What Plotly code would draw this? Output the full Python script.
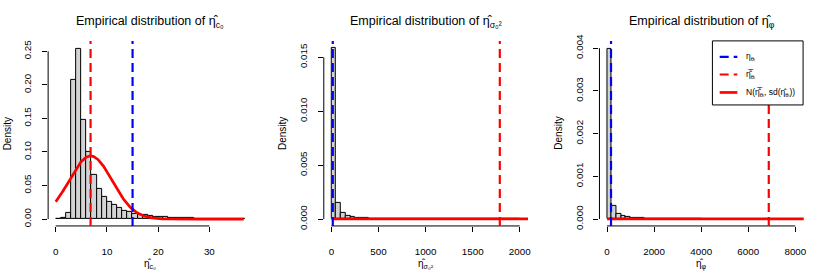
import numpy as np
import plotly.graph_objects as go

# ---------------- data ----------------
# Panel 1: eta_c0  (bin width 1, starting at 0)
bw1 = 1
dens1 = [0.0, 0.0024, 0.0086, 0.207, 0.254, 0.148, 0.100, 0.0652, 0.0443, 0.0330,
         0.0255, 0.0205, 0.0160, 0.0125, 0.0100, 0.0085, 0.0070, 0.0057, 0.0048, 0.0038,
         0.0033, 0.0028, 0.0024, 0.0020, 0.0017, 0.0014, 0.0012, 0.0010, 0.0008, 0.0007,
         0.0006, 0.0005, 0.0004, 0.0003, 0.0003, 0.0002, 0.0002]
true1 = 15.0
mean1 = 6.8
sd1 = 4.24
curve_end1 = 36.7
xticks1 = [0, 10, 20, 30]
yticks1 = [0.00, 0.05, 0.10, 0.15, 0.20, 0.25]

# Panel 2: eta_sigma0^2  (bin width 50)
bw2 = 50
dens2 = [0.01586, 0.00147, 0.00054, 0.00031, 0.00021, 0.00015, 0.00011, 0.00008,
         0.00006, 0.00005, 0.00004, 0.00003, 0.00003, 0.00002, 0.00002, 0.00002,
         0.00001, 0.00001, 0.00001, 0.00001, 0.00001, 0.00001, 0.00001, 0.00001,
         0.0, 0.0, 0.0, 0.0, 0.0, 0.0, 0.0, 0.0, 0.0, 0.0, 0.0, 0.0, 0.0, 0.0, 0.0, 0.0]
true2 = 14.0
mean2 = 1788.0
sd2 = 25000.0
curve_end2 = 2090.0
xticks2 = [0, 500, 1000, 1500, 2000]
yticks2 = [0.000, 0.005, 0.010, 0.015]

# Panel 3: eta_phi  (bin width 200)
bw3 = 200
dens3 = [0.003987, 0.000299, 0.000128, 0.000075, 0.000052, 0.000037, 0.000027, 0.000020,
         0.000015, 0.000012, 0.000010, 0.000008, 0.000006, 0.000005, 0.000004, 0.000003,
         0.000003, 0.000002, 0.000002, 0.000002]
true3 = 169.0
mean3 = 6871.0
sd3 = 90000.0
curve_end3 = 8400.0
xticks3 = [0, 2000, 4000, 6000, 8000]
yticks3 = [0.000, 0.001, 0.002, 0.003, 0.004]

titles = ["Empirical distribution of η\u0302<sub>c₀</sub>",
          "Empirical distribution of η\u0302<sub>σ₀²</sub>",
          "Empirical distribution of η\u0302<sub>φ</sub>"]
xtitles = ["η\u0302<sub>c₀</sub>", "η\u0302<sub>σ₀²</sub>", "η\u0302<sub>φ</sub>"]
legend_labels = ["η<sub>θᵢ</sub>",
                 "η\u0305\u0302<sub>θᵢ</sub>",
                 "N(η\u0305\u0302<sub>θᵢ</sub>, sd(η\u0302<sub>θᵢ</sub>))"]

panels = [
    dict(bw=bw1, dens=dens1, true=true1, mean=mean1, sd=sd1, cend=curve_end1,
         xt=xticks1, yt=yticks1, xr=[-1.49, 38.4], yr=[-0.0102, 0.2655], yfmt="%.2f"),
    dict(bw=bw2, dens=dens2, true=true2, mean=mean2, sd=sd2, cend=curve_end2,
         xt=xticks2, yt=yticks2, xr=[-81.5, 2088], yr=[-0.000636, 0.01652], yfmt="%.3f"),
    dict(bw=bw3, dens=dens3, true=true3, mean=mean3, sd=sd3, cend=curve_end3,
         xt=xticks3, yt=yticks3, xr=[-322, 8356], yr=[-0.00016, 0.00417], yfmt="%.3f"),
]

# ---------------- figure ----------------
W, H = 830, 277
FONT = "Liberation Sans, Arial, Helvetica, sans-serif"
fig = go.Figure()
shapes = []
annotations = []
ydom = [1 - 228 / H, 1 - 35.3 / H]
layout_axes = {}

for i, p in enumerate(panels):
    k = "" if i == 0 else str(i + 1)
    xa, ya = "x" + k, "y" + k
    left = 48.3 + 276.67 * i
    right = left + 205
    dens = p["dens"]
    edges = [j * p["bw"] for j in range(len(dens))]
    fig.add_trace(go.Bar(
        x=[e + p["bw"] / 2 for e in edges], y=dens, width=[p["bw"]] * len(dens),
        marker=dict(color="#D3D3D3", line=dict(color="black", width=1)),
        xaxis=xa, yaxis=ya, showlegend=False, hoverinfo="skip"))
    xs = np.linspace(0, p["cend"], 500)
    ys = np.exp(-0.5 * ((xs - p["mean"]) / p["sd"]) ** 2) / (p["sd"] * np.sqrt(2 * np.pi))
    fig.add_trace(go.Scatter(x=xs, y=ys, mode="lines",
                             line=dict(color="#FF0000", width=2.7),
                             xaxis=xa, yaxis=ya, showlegend=False, hoverinfo="skip"))

    layout_axes["xaxis" + k] = dict(
        domain=[left / W, right / W], range=p["xr"], anchor=ya,
        tickvals=p["xt"], ticktext=[str(v) for v in p["xt"]],
        ticks="outside", ticklen=5, tickwidth=1, tickcolor="black",
        showline=False, showgrid=False, zeroline=False,
        tickfont=dict(family=FONT, size=9.8, color="black"), ticklabelstandoff=11)
    layout_axes["yaxis" + k] = dict(
        domain=ydom, range=p["yr"], anchor=xa,
        tickvals=p["yt"], ticktext=[p["yfmt"] % v for v in p["yt"]],
        ticks="outside", ticklen=5, tickwidth=1, tickcolor="black", tickangle=-90,
        showline=False, showgrid=False, zeroline=False,
        tickfont=dict(family=FONT, size=9.8, color="black"), ticklabelstandoff=7)

    # R-style axis lines spanning first..last tick
    shapes.append(dict(type="line", xref=xa, yref=ya + " domain",
                       x0=p["xt"][0], x1=p["xt"][-1], y0=0, y1=0,
                       line=dict(color="black", width=1), layer="above"))
    shapes.append(dict(type="line", xref=xa + " domain", yref=ya,
                       x0=0, x1=0, y0=p["yt"][0], y1=p["yt"][-1],
                       line=dict(color="black", width=1), layer="above"))
    # vertical reference lines
    shapes.append(dict(type="line", xref=xa, yref=ya + " domain",
                       x0=p["true"], x1=p["true"], y0=0, y1=1,
                       line=dict(color="#0000FF", width=2.2, dash="9px,5px"), layer="above"))
    shapes.append(dict(type="line", xref=xa, yref=ya + " domain",
                       x0=p["mean"], x1=p["mean"], y0=0, y1=1,
                       line=dict(color="#FF0000", width=2.2, dash="9px,5px"), layer="above"))

    cx = (left + right) / 2 / W
    annotations.append(dict(text=titles[i], x=cx, y=1 - 15.5 / H, xref="paper", yref="paper",
                            showarrow=False, xanchor="center", yanchor="middle",
                            font=dict(family=FONT, size=12.5, color="black")))
    annotations.append(dict(text=xtitles[i], x=cx, y=1 - 268 / H, xref="paper", yref="paper",
                            showarrow=False, xanchor="center", yanchor="middle",
                            font=dict(family=FONT, size=10, color="black")))
    annotations.append(dict(text="Density", x=(7 + 276.67 * i) / W, y=1 - 131.6 / H,
                            xref="paper", yref="paper", textangle=-90,
                            showarrow=False, xanchor="center", yanchor="middle",
                            font=dict(family=FONT, size=10, color="black")))

# legend box in panel 3
shapes.append(dict(type="rect", xref="paper", yref="paper",
                   x0=715 / W, x1=806 / W, y0=1 - 102 / H, y1=1 - 35.3 / H,
                   fillcolor="white", line=dict(color="black", width=1), layer="above"))
leg_y = [52, 70.3, 89]
leg_style = [dict(color="#0000FF", width=2.2, dash="9px,5px"),
             dict(color="#FF0000", width=2.2, dash="9px,5px"),
             dict(color="#FF0000", width=2.7)]
for yy, st, lab in zip(leg_y, leg_style, legend_labels):
    shapes.append(dict(type="line", xref="paper", yref="paper",
                       x0=722.3 / W, x1=740 / W, y0=1 - yy / H, y1=1 - yy / H,
                       line=st, layer="above"))
    annotations.append(dict(text=lab, x=747 / W, y=1 - yy / H, xref="paper", yref="paper",
                            showarrow=False, xanchor="left", yanchor="middle",
                            font=dict(family=FONT, size=8.5, color="black")))

fig.update_layout(
    width=W, height=H, margin=dict(l=0, r=0, t=0, b=0),
    paper_bgcolor="white", plot_bgcolor="white",
    bargap=0, barmode="overlay", showlegend=False,
    shapes=shapes, annotations=annotations, **layout_axes)

fig.write_html("out.html", config={"displayModeBar": False},
               post_script="document.body.style.margin='0';document.body.style.padding='0';")
